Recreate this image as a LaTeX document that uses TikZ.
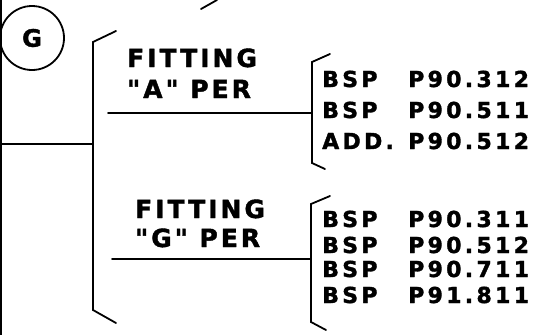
\documentclass[tikz,border=0pt]{standalone}
\usepackage{fontspec}
\setmainfont{DejaVu Sans}
\newfontfamily\lettrR[LetterSpace=15,FakeBold=1.6]{DejaVu Sans Bold}
\newfontfamily\lettrL[LetterSpace=12,FakeBold=1.6]{DejaVu Sans Bold}
\newfontfamily\lettrG[FakeBold=1.6]{DejaVu Sans Bold}
\begin{document}
\begin{tikzpicture}[x=1pt,y=-1pt,
  ln/.style={line width=1.8pt, line cap=round, line join=miter},
  lbl/.style={anchor=base west, inner sep=0pt, font=\lettrL\fontsize{25}{27}\selectfont},
  itm/.style={anchor=base west, inner sep=0pt, font=\lettrR\fontsize{22}{24}\selectfont}]
\useasboundingbox (0,0) rectangle (538,335);
% left border line
\coordinate (lt) at (1,0);
\coordinate (lb) at (1,335);
\draw[line width=2.2pt] (lt) -- (lb);
% circle G
\node[draw, circle, line width=1.8pt, minimum size=64pt, inner sep=0pt,
      font=\lettrG\fontsize{24}{26}\selectfont] (g) at (32,38) {G};
% top slash
\coordinate (s1) at (201,9);
\coordinate (s2) at (217,0);
\draw[ln] (s1) -- (s2);
% big bracket
\coordinate (bt) at (116,31);
\coordinate (btc) at (93,42);
\coordinate (bbc) at (93,310);
\coordinate (bb) at (116,323);
\coordinate (bm) at (93,144);
\coordinate (lm) at (1,144);
\draw[ln] (bt) -- (btc) -- (bbc) -- (bb);
\draw[ln] (lm) -- (bm);
% group labels
\node[lbl] (fa1) at (127,67) {FITTING};
\node[lbl] (fa2) at (127,98) {"A" PER};
\node[lbl] (fg1) at (135,218) {FITTING};
\node[lbl] (fg2) at (135,247) {"G" PER};
% underlines
\coordinate (ua) at (108,113);
\coordinate (ug) at (112,259);
% upper right bracket
\coordinate (rat) at (330,54);
\coordinate (ratc) at (312,62);
\coordinate (rabc) at (312,163);
\coordinate (rab) at (325,169);
\coordinate (ram) at (312,113);
\draw[ln] (rat) -- (ratc) -- (rabc) -- (rab);
\draw[ln] (ua) -- (ram);
% lower right bracket
\coordinate (rgt) at (330,196);
\coordinate (rgtc) at (311,204);
\coordinate (rgbc) at (311,322);
\coordinate (rgb) at (326,330);
\coordinate (rgm) at (311,259);
\draw[ln] (rgt) -- (rgtc) -- (rgbc) -- (rgb);
\draw[ln] (ug) -- (rgm);
% items
\node[itm] (a1) at (322,87) {\makebox[86pt][l]{BSP}P90.312};
\node[itm] (a2) at (322,118) {\makebox[86pt][l]{BSP}P90.511};
\node[itm] (a3) at (322,149) {\makebox[86pt][l]{ADD.}P90.512};
\node[itm] (b1) at (322,227) {\makebox[86pt][l]{BSP}P90.311};
\node[itm] (b2) at (322,253) {\makebox[86pt][l]{BSP}P90.512};
\node[itm] (b3) at (322,277) {\makebox[86pt][l]{BSP}P90.711};
\node[itm] (b4) at (322,303) {\makebox[86pt][l]{BSP}P91.811};
\end{tikzpicture}
\end{document}
